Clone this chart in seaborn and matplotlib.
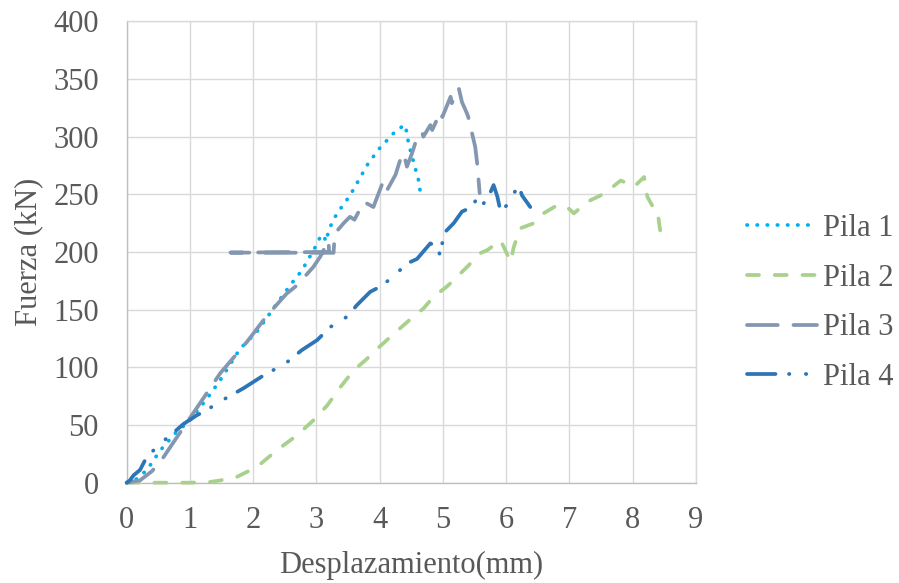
import matplotlib
matplotlib.use("Agg")
import matplotlib.pyplot as plt
import seaborn as sns
import pandas as pd

# ---- data ----
pila1_x = [0, 0.15, 0.32, 0.53, 0.77, 1.0, 1.27, 1.48, 1.79, 2.06, 2.37, 2.61, 2.77, 3.01, 3.05, 3.11,
           3.15, 3.2, 3.32, 3.53, 3.82, 4.0, 4.22, 4.3, 4.405, 4.46, 4.54, 4.62, 4.64]
pila1_y = [0, 3, 11, 28, 43, 54, 73, 89, 116, 131, 155, 173, 184, 207, 212, 215,
           209, 220, 233, 249, 277, 290, 303, 307, 310, 293, 277, 261, 252]

pila2_x = [0, 0.5, 1.0, 1.3, 1.48, 1.74, 2.06, 2.37, 2.69, 2.95, 3.17, 3.38, 3.59, 3.77, 4.0, 4.2,
           4.45, 4.69, 4.85, 5.06, 5.12, 5.38, 5.59, 5.7, 5.91, 5.96, 6.07, 6.12, 6.22, 6.43, 6.59,
           6.81, 6.96, 7.07, 7.28, 7.49, 7.65, 7.81, 7.97, 8.02, 8.18, 8.23, 8.33, 8.39, 8.44]
pila2_y = [0, 0, 0, 0.5, 2, 5, 13.7, 28, 41, 54, 67, 83, 97.6, 106, 118, 128,
           140, 151, 161, 170, 173, 187, 199, 201.6, 210, 204.5, 191.5, 204.5, 220.5, 224.8, 233.5,
           240.7, 239, 233.5, 243.5, 249, 255, 262, 258, 256.5, 265, 248, 238, 236, 216]

pila3_x = [0, 0.21, 0.4, 0.58, 0.85, 1.16, 1.48, 1.9, 2.22, 2.53, 2.69, 2.95, 3.06, 3.19, 3.2, 1.64,
           3.27, 3.29, 3.43, 3.53, 3.6, 3.75, 3.9, 4.06, 4.12, 4.25, 4.33, 4.38, 4.43, 4.51, 4.56,
           4.67, 4.69, 4.8, 4.83, 4.96, 4.99, 5.12, 5.14, 5.25, 5.30, 5.38, 5.40, 5.51, 5.54, 5.58]
pila3_y = [0, 2, 10, 22, 44, 69, 95, 122, 145, 164, 171, 187, 196, 210, 200, 199.5,
           199.3, 216, 225, 230.5, 228, 243.5, 239, 262, 254, 267, 281, 285.5, 274, 285.5, 294,
           304, 300, 310, 305.7, 321.6, 317, 334.6, 329, 342, 330, 320, 317, 291, 277, 251]

pila4_x = [0, 0.05, 0.11, 0.21, 0.29, 0.37, 0.53, 0.69, 0.9, 1.11, 1.27, 1.43, 1.69, 1.85, 2.22,
           2.48, 2.77, 3.01, 3.22, 3.48, 3.64, 3.85, 4.01, 4.2, 4.43, 4.59, 4.8, 4.91, 4.96, 5.01,
           5.17, 5.3, 5.46, 5.56, 5.64, 5.72, 5.8, 5.86, 5.91, 6.01, 6.12, 6.2, 6.25, 6.38]
pila4_y = [0, 2, 6.5, 11, 19.5, 25, 34, 41, 51, 58.5, 63, 69, 77, 82, 95,
           102, 115, 123.6, 135, 143.8, 154, 165.5, 170, 178, 190, 194, 207.5, 204.5, 196, 216,
           225, 235, 239, 249, 242, 248, 258, 248, 235, 240.6, 251, 257, 249, 239]

series_names = ["Pila 1", "Pila 2", "Pila 3", "Pila 4"]
x_ticks = [0, 1, 2, 3, 4, 5, 6, 7, 8, 9]
y_ticks = [0, 50, 100, 150, 200, 250, 300, 350, 400]

# ---- styling ----
colors = {"Pila 1": "#00B0F0", "Pila 2": "#A9D18E", "Pila 3": "#8497B0", "Pila 4": "#2E75B6"}
dashes = {
    "Pila 1": (0.1, 2.6),
    "Pila 2": (3.2, 4.2),
    "Pila 3": (8.2, 4.2),
    "Pila 4": (7.6, 3.6, 0.1, 4.4, 0.1, 3.6),
}
LW = 2.7
FONT = ["Liberation Serif", "DejaVu Serif"]
TXT = "#595959"

sns.set_style("white")
plt.rcParams["font.family"] = FONT

W, H = 899, 583
fig = plt.figure(figsize=(W / 100, H / 100), dpi=100)
x0, x1, ytop, ybot = 126.7, 696.0, 21.3, 482.7
ax = fig.add_axes([x0 / W, 1 - ybot / H, (x1 - x0) / W, (ybot - ytop) / H])

data = {
    "Pila 1": (pila1_x, pila1_y),
    "Pila 2": (pila2_x, pila2_y),
    "Pila 3": (pila3_x, pila3_y),
    "Pila 4": (pila4_x, pila4_y),
}

for name in series_names:
    xs, ys = data[name]
    df = pd.DataFrame({"x": xs, "y": ys})
    sns.lineplot(data=df, x="x", y="y", ax=ax, sort=False, estimator=None,
                 color=colors[name], linewidth=LW, label=name,
                 dashes=False, clip_on=False, zorder=3)
    line = ax.get_lines()[-1]
    line.set_dashes(dashes[name])
    line.set_dash_capstyle("round")
    line.set_solid_capstyle("round")
    line.set_solid_joinstyle("round")
    line.set_dash_joinstyle("round")

ax.set_xlim(0, 9)
ax.set_ylim(0, 400)
ax.set_xticks(x_ticks)
ax.set_yticks(y_ticks)
ax.grid(True, color="#D9D9D9", linewidth=1.0, zorder=0)
ax.set_axisbelow(True)
for side in ["top", "right"]:
    ax.spines[side].set_color("#D9D9D9")
    ax.spines[side].set_linewidth(1.0)
for side in ["left", "bottom"]:
    ax.spines[side].set_color("#BFBFBF")
    ax.spines[side].set_linewidth(1.0)

ax.tick_params(axis="x", length=0, pad=17, labelsize=22, labelcolor=TXT)
ax.tick_params(axis="y", length=0, pad=20, labelsize=22, labelcolor=TXT)
ax.set_xlabel("Desplazamiento(mm)", fontsize=22, color=TXT, labelpad=11)
ax.set_ylabel("Fuerza (kN)", fontsize=22, color=TXT, labelpad=7)

handles, labels = ax.get_legend_handles_labels()
if ax.get_legend() is not None:
    ax.get_legend().remove()
leg = fig.legend(handles, labels, loc="center left", bbox_to_anchor=(746.7 / W, 1 - 303 / H),
                 frameon=False, fontsize=22, handlelength=2.3, handletextpad=0.2,
                 labelspacing=0.68, borderpad=0, borderaxespad=0)
for t in leg.get_texts():
    t.set_color(TXT)
for h in leg.get_lines():
    h.set_linewidth(LW)

fig.savefig("out.png", dpi=100)
